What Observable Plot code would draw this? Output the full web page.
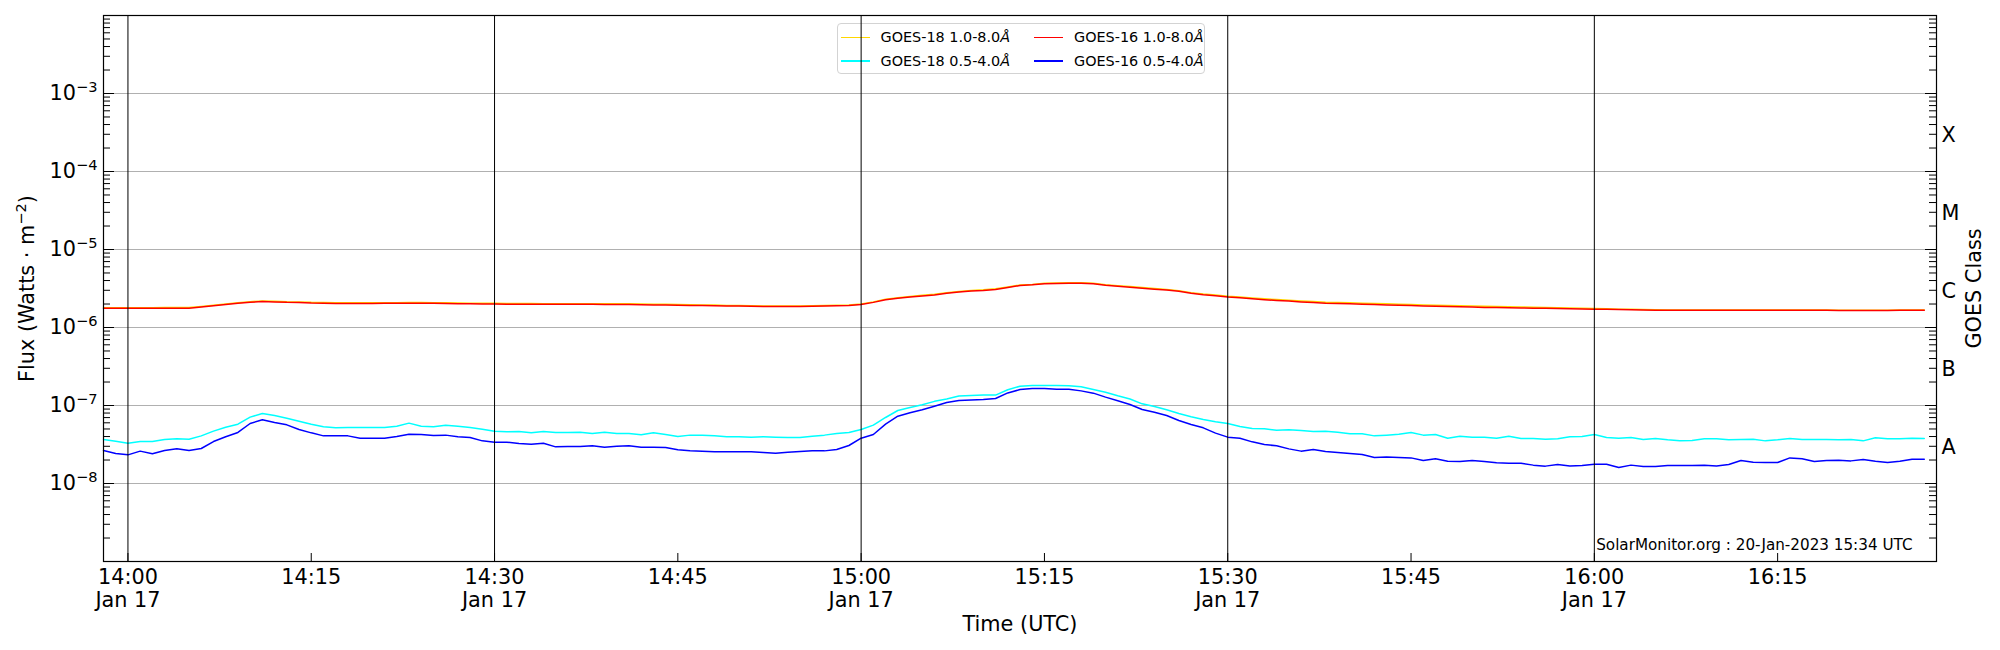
<!DOCTYPE html>
<html>
<head>
<meta charset="utf-8">
<script src="https://cdn.jsdelivr.net/npm/d3@7"></script>
<script src="https://cdn.jsdelivr.net/npm/@observablehq/plot@0.6"></script>
<style>
html, body { margin: 0; padding: 0; background: #fff; }
#wrap { position: relative; width: 2000px; height: 650px; font-family: "DejaVu Sans", sans-serif; }
#legend { position: absolute; left: 836.5px; top: 22.5px; width: 368px; height: 51px; border: 1px solid #d3d3d3; border-radius: 4px; background: #fff; z-index: 0; box-sizing: border-box; }
#chart { position: absolute; left: 0; top: 0; z-index: 1; }
.item { position: absolute; height: 20px; display: flex; align-items: center; font-size: 14.4px; color: #000; white-space: nowrap; }
.swatch { display: block; flex: 0 0 29px; width: 29px; height: 1.5px; margin-right: 11px; }
.item i { font-style: italic; }
</style>
</head>
<body>
<div id="wrap">
  <div id="legend"></div>
  <div id="chart"></div>
</div>
<script>
// ---------- data ----------
const seriesNames = ["GOES-18 1.0-8.0Å", "GOES-18 0.5-4.0Å", "GOES-16 1.0-8.0Å", "GOES-16 0.5-4.0Å"];
const seriesColors = ["#FFD700", "#00FFFF", "#FF0000", "#0000FF"];

// one-minute samples, 13:58 .. 16:27 UTC, 17 Jan 2023
const tStart = new Date(Date.UTC(2023, 0, 17, 13, 58));
const tEnd = new Date(Date.UTC(2023, 0, 17, 16, 28));
const times = d3.utcMinute.range(tStart, tEnd);

const goes18Long = [
  1.79e-6,1.79e-6,1.79e-6,1.79e-6,1.79e-6,1.80e-6,1.80e-6,1.80e-6,1.86e-6,1.93e-6,
  2.00e-6,2.08e-6,2.14e-6,2.19e-6,2.17e-6,2.14e-6,2.13e-6,2.10e-6,2.09e-6,2.07e-6,
  2.07e-6,2.07e-6,2.07e-6,2.08e-6,2.08e-6,2.09e-6,2.09e-6,2.08e-6,2.07e-6,2.06e-6,
  2.05e-6,2.04e-6,2.04e-6,2.03e-6,2.03e-6,2.03e-6,2.02e-6,2.02e-6,2.02e-6,2.02e-6,
  2.02e-6,2.01e-6,2.01e-6,2.01e-6,2.00e-6,1.99e-6,1.98e-6,1.97e-6,1.96e-6,1.95e-6,
  1.94e-6,1.92e-6,1.91e-6,1.90e-6,1.89e-6,1.89e-6,1.89e-6,1.89e-6,1.90e-6,1.92e-6,
  1.93e-6,1.95e-6,2.00e-6,2.13e-6,2.31e-6,2.41e-6,2.50e-6,2.59e-6,2.66e-6,2.79e-6,
  2.90e-6,2.99e-6,3.04e-6,3.13e-6,3.31e-6,3.50e-6,3.57e-6,3.68e-6,3.72e-6,3.76e-6,
  3.76e-6,3.69e-6,3.54e-6,3.44e-6,3.35e-6,3.25e-6,3.16e-6,3.08e-6,2.97e-6,2.80e-6,
  2.69e-6,2.61e-6,2.52e-6,2.46e-6,2.39e-6,2.33e-6,2.28e-6,2.24e-6,2.19e-6,2.15e-6,
  2.11e-6,2.09e-6,2.07e-6,2.05e-6,2.03e-6,2.01e-6,1.99e-6,1.97e-6,1.95e-6,1.93e-6,
  1.92e-6,1.90e-6,1.89e-6,1.87e-6,1.86e-6,1.84e-6,1.83e-6,1.82e-6,1.80e-6,1.79e-6,
  1.78e-6,1.76e-6,1.75e-6,1.74e-6,1.72e-6,1.71e-6,1.70e-6,1.69e-6,1.68e-6,1.68e-6,
  1.68e-6,1.68e-6,1.68e-6,1.68e-6,1.68e-6,1.68e-6,1.68e-6,1.68e-6,1.68e-6,1.68e-6,
  1.68e-6,1.68e-6,1.67e-6,1.67e-6,1.67e-6,1.67e-6,1.67e-6,1.68e-6,1.68e-6,1.68e-6
];
const goes18Short = [
  3.66e-8,3.49e-8,3.29e-8,3.45e-8,3.45e-8,3.66e-8,3.74e-8,3.70e-8,4.08e-8,4.69e-8,
  5.27e-8,5.76e-8,7.09e-8,7.90e-8,7.44e-8,6.88e-8,6.30e-8,5.76e-8,5.33e-8,5.17e-8,
  5.22e-8,5.22e-8,5.22e-8,5.22e-8,5.43e-8,5.94e-8,5.43e-8,5.33e-8,5.60e-8,5.43e-8,
  5.22e-8,4.97e-8,4.69e-8,4.60e-8,4.64e-8,4.46e-8,4.64e-8,4.51e-8,4.51e-8,4.55e-8,
  4.38e-8,4.55e-8,4.38e-8,4.38e-8,4.21e-8,4.46e-8,4.25e-8,4.00e-8,4.17e-8,4.17e-8,
  4.08e-8,3.97e-8,3.97e-8,3.93e-8,3.97e-8,3.93e-8,3.89e-8,3.89e-8,4.04e-8,4.17e-8,
  4.38e-8,4.51e-8,4.92e-8,5.60e-8,7.02e-8,8.63e-8,9.43e-8,1.02e-7,1.13e-7,1.21e-7,
  1.32e-7,1.34e-7,1.36e-7,1.36e-7,1.59e-7,1.77e-7,1.80e-7,1.80e-7,1.80e-7,1.79e-7,
  1.74e-7,1.60e-7,1.48e-7,1.33e-7,1.21e-7,1.05e-7,9.71e-8,8.80e-8,7.90e-8,7.16e-8,
  6.61e-8,6.17e-8,5.88e-8,5.38e-8,5.07e-8,5.02e-8,4.83e-8,4.88e-8,4.78e-8,4.64e-8,
  4.69e-8,4.55e-8,4.33e-8,4.33e-8,4.08e-8,4.17e-8,4.29e-8,4.51e-8,4.17e-8,4.25e-8,
  3.81e-8,4.04e-8,3.93e-8,3.93e-8,3.81e-8,4.04e-8,3.78e-8,3.78e-8,3.70e-8,3.74e-8,
  3.97e-8,4.00e-8,4.25e-8,3.89e-8,3.81e-8,3.89e-8,3.66e-8,3.78e-8,3.63e-8,3.52e-8,
  3.56e-8,3.74e-8,3.74e-8,3.63e-8,3.66e-8,3.70e-8,3.52e-8,3.63e-8,3.78e-8,3.66e-8,
  3.66e-8,3.66e-8,3.63e-8,3.66e-8,3.52e-8,3.85e-8,3.74e-8,3.74e-8,3.81e-8,3.78e-8
];
const goes16Long = [
  1.76e-6,1.76e-6,1.76e-6,1.76e-6,1.76e-6,1.77e-6,1.77e-6,1.77e-6,1.83e-6,1.90e-6,
  1.97e-6,2.05e-6,2.10e-6,2.15e-6,2.13e-6,2.10e-6,2.09e-6,2.06e-6,2.05e-6,2.03e-6,
  2.03e-6,2.03e-6,2.03e-6,2.04e-6,2.04e-6,2.05e-6,2.05e-6,2.04e-6,2.03e-6,2.02e-6,
  2.01e-6,2.00e-6,2.00e-6,1.99e-6,1.99e-6,1.99e-6,1.98e-6,1.98e-6,1.98e-6,1.98e-6,
  1.98e-6,1.97e-6,1.97e-6,1.97e-6,1.96e-6,1.95e-6,1.94e-6,1.93e-6,1.92e-6,1.91e-6,
  1.90e-6,1.89e-6,1.88e-6,1.87e-6,1.86e-6,1.86e-6,1.86e-6,1.86e-6,1.87e-6,1.89e-6,
  1.90e-6,1.92e-6,1.97e-6,2.10e-6,2.27e-6,2.37e-6,2.46e-6,2.54e-6,2.61e-6,2.74e-6,
  2.85e-6,2.94e-6,2.99e-6,3.08e-6,3.26e-6,3.45e-6,3.52e-6,3.63e-6,3.66e-6,3.70e-6,
  3.70e-6,3.63e-6,3.48e-6,3.38e-6,3.29e-6,3.19e-6,3.10e-6,3.02e-6,2.91e-6,2.74e-6,
  2.63e-6,2.55e-6,2.46e-6,2.40e-6,2.33e-6,2.27e-6,2.22e-6,2.18e-6,2.13e-6,2.09e-6,
  2.05e-6,2.03e-6,2.01e-6,1.99e-6,1.97e-6,1.95e-6,1.93e-6,1.91e-6,1.89e-6,1.87e-6,
  1.86e-6,1.84e-6,1.83e-6,1.81e-6,1.80e-6,1.79e-6,1.78e-6,1.77e-6,1.76e-6,1.75e-6,
  1.74e-6,1.73e-6,1.72e-6,1.71e-6,1.70e-6,1.69e-6,1.68e-6,1.67e-6,1.66e-6,1.66e-6,
  1.66e-6,1.66e-6,1.66e-6,1.66e-6,1.66e-6,1.66e-6,1.66e-6,1.66e-6,1.66e-6,1.66e-6,
  1.66e-6,1.66e-6,1.65e-6,1.65e-6,1.65e-6,1.65e-6,1.65e-6,1.66e-6,1.66e-6,1.66e-6
];
const goes16Short = [
  2.65e-8,2.42e-8,2.33e-8,2.60e-8,2.40e-8,2.65e-8,2.78e-8,2.65e-8,2.81e-8,3.45e-8,
  3.97e-8,4.51e-8,5.88e-8,6.55e-8,6.05e-8,5.65e-8,4.92e-8,4.46e-8,4.08e-8,4.08e-8,
  4.08e-8,3.81e-8,3.81e-8,3.81e-8,4.00e-8,4.29e-8,4.25e-8,4.12e-8,4.17e-8,3.97e-8,
  3.89e-8,3.52e-8,3.39e-8,3.39e-8,3.26e-8,3.19e-8,3.29e-8,2.95e-8,2.98e-8,2.98e-8,
  3.04e-8,2.92e-8,3.01e-8,3.04e-8,2.92e-8,2.92e-8,2.89e-8,2.70e-8,2.62e-8,2.60e-8,
  2.55e-8,2.55e-8,2.55e-8,2.55e-8,2.50e-8,2.45e-8,2.52e-8,2.57e-8,2.62e-8,2.62e-8,
  2.73e-8,3.07e-8,3.81e-8,4.25e-8,5.76e-8,7.30e-8,8.05e-8,8.80e-8,9.80e-8,1.09e-7,
  1.16e-7,1.18e-7,1.19e-7,1.23e-7,1.45e-7,1.60e-7,1.65e-7,1.65e-7,1.62e-7,1.62e-7,
  1.54e-7,1.44e-7,1.28e-7,1.15e-7,1.03e-7,8.89e-8,8.21e-8,7.44e-8,6.42e-8,5.71e-8,
  5.17e-8,4.42e-8,3.93e-8,3.81e-8,3.42e-8,3.16e-8,3.04e-8,2.78e-8,2.60e-8,2.73e-8,
  2.57e-8,2.50e-8,2.42e-8,2.35e-8,2.15e-8,2.18e-8,2.15e-8,2.13e-8,1.97e-8,2.07e-8,
  1.93e-8,1.91e-8,1.97e-8,1.92e-8,1.84e-8,1.82e-8,1.82e-8,1.72e-8,1.67e-8,1.75e-8,
  1.68e-8,1.70e-8,1.77e-8,1.77e-8,1.60e-8,1.72e-8,1.65e-8,1.65e-8,1.70e-8,1.70e-8,
  1.70e-8,1.72e-8,1.68e-8,1.75e-8,1.97e-8,1.87e-8,1.86e-8,1.86e-8,2.13e-8,2.07e-8,
  1.91e-8,1.97e-8,1.99e-8,1.95e-8,2.03e-8,1.93e-8,1.86e-8,1.93e-8,2.05e-8,2.05e-8
];
const seriesValues = [goes18Long, goes18Short, goes16Long, goes16Short];

// axes / ticks
const xTickTimes = d3.utcMinute.every(15).range(new Date(Date.UTC(2023,0,17,14,0)), new Date(Date.UTC(2023,0,17,16,16)));
const xDayLines = d3.utcMinute.every(30).range(new Date(Date.UTC(2023,0,17,14,0)), new Date(Date.UTC(2023,0,17,16,1)));
const yDomain = [1e-9, 1e-2];
const yGridValues = [1e-8, 1e-7, 1e-6, 1e-5, 1e-4, 1e-3];
const yLabelValues = [1e-8, 1e-7, 1e-6, 1e-5, 1e-4, 1e-3];
const classLabels = ["A", "B", "C", "M", "X"];
const classValues = [3.16e-8, 3.16e-7, 3.16e-6, 3.16e-5, 3.16e-4];
const yTitle = "Flux (Watts · m^-2)";
const yRightTitle = "GOES Class";
const xTitle = "Time (UTC)";
const stamp = "SolarMonitor.org : 20-Jan-2023 15:34 UTC";

// ---------- layout ----------
const W = 2000, H = 650;
const ML = 103, MR = 64, MT = 15, MB = 89;
const PW = W - ML - MR, PH = H - MT - MB;
const FS = 20.8;

// ---------- helpers ----------
const powFmt = d => "10^" + Math.round(Math.log10(d));
const hm = d3.utcFormat("%H:%M");
const dayFmt = d3.utcFormat("%b %d");
const xFmt = d => (d.getUTCMinutes() % 30 === 0) ? hm(d) + "\n" + dayFmt(d) : hm(d);

const allLogTicks = d3.scaleLog().domain(yDomain).ticks();
const isDecade = v => Math.abs(Math.log10(v) - Math.round(Math.log10(v))) < 1e-9;
const yMajorTicks = allLogTicks.filter(isDecade);
const yMinorTicks = allLogTicks.filter(v => !isDecade(v));

const lineMarks = seriesValues.map((vals, s) =>
  Plot.line(times, {x: d => d, y: (d, i) => vals[i], stroke: seriesColors[s], strokeWidth: 1.5})
);

const chart = Plot.plot({
  width: W,
  height: H,
  marginLeft: ML,
  marginRight: MR,
  marginTop: MT,
  marginBottom: MB,
  style: {background: "transparent", fontFamily: "DejaVu Sans, sans-serif", color: "black", overflow: "visible"},
  x: {type: "utc", domain: [tStart, tEnd]},
  y: {type: "log", domain: yDomain},
  marks: [
    Plot.ruleY(yGridValues, {stroke: "#b0b0b0", strokeWidth: 1}),
    ...lineMarks,
    Plot.ruleX(xDayLines, {stroke: "black", strokeWidth: 1}),
    // inward ticks, left and right
    Plot.tickY(yMajorTicks, {y: d => d, insetRight: PW - 11, stroke: "black", strokeWidth: 1}),
    Plot.tickY(yMinorTicks, {y: d => d, insetRight: PW - 7, stroke: "black", strokeWidth: 1}),
    Plot.tickY(yMajorTicks, {y: d => d, insetLeft: PW - 11, stroke: "black", strokeWidth: 1}),
    Plot.tickY(yMinorTicks, {y: d => d, insetLeft: PW - 7, stroke: "black", strokeWidth: 1}),
    // inward ticks, bottom
    Plot.tickX(xTickTimes, {x: d => d, insetTop: PH - 8, stroke: "black", strokeWidth: 1}),
    // left axis labels
    Plot.axisY({ticks: yLabelValues, anchor: "left", tickSize: 0, tickPadding: 6, tickFormat: powFmt, fontSize: FS, label: null}),
    // bottom axis labels
    Plot.axisX({ticks: xTickTimes, anchor: "bottom", tickSize: 0, tickPadding: 7, tickFormat: xFmt, fontSize: FS, lineHeight: 1.07, label: null}),
    Plot.frame({stroke: "black", strokeWidth: 1.2}),
    // GOES classes on the right
    Plot.text(classLabels, {y: (d, i) => classValues[i], text: d => d, frameAnchor: "right", dx: 5, dy: 3, textAnchor: "start", fontSize: FS}),
    // titles
    Plot.text([yTitle], {text: d => d, frameAnchor: "left", dx: -76, rotate: -90, textAnchor: "middle", fontSize: FS}),
    Plot.text([yRightTitle], {text: d => d, frameAnchor: "right", dx: 38, rotate: -90, textAnchor: "middle", fontSize: FS}),
    Plot.text([xTitle], {text: d => d, frameAnchor: "bottom", dy: 69, textAnchor: "middle", fontSize: FS}),
    Plot.text([stamp], {text: d => d, frameAnchor: "bottom-right", dx: -24, dy: -12, textAnchor: "end", lineAnchor: "bottom", fontSize: 15.2})
  ]
});

// render "^n" as a real superscript (matplotlib mathtext look)
d3.select(chart).selectAll("text").each(function() {
  const t = this.textContent;
  const m = /^(.*)\^(-?\d+)(.*)$/.exec(t);
  if (!m) return;
  const sel = d3.select(this);
  sel.text(null);
  sel.append("tspan").text(m[1]);
  sel.append("tspan").attr("dy", "-8.5px").attr("font-size", "14.6px").text(m[2].replace("-", "−"));
  if (m[3]) sel.append("tspan").attr("dy", "8.5px").text(m[3]);
});

document.getElementById("chart").appendChild(chart);

// ---------- legend (column-major, 2 columns) ----------
const legend = document.getElementById("legend");
const legendPos = [[3, 3.8], [3, 27.5], [196.5, 3.8], [196.5, 27.5]];
seriesNames.forEach((name, i) => {
  const item = document.createElement("div");
  item.className = "item";
  item.style.left = legendPos[i][0] + "px";
  item.style.top = legendPos[i][1] + "px";
  const sw = document.createElement("span");
  sw.className = "swatch";
  sw.style.background = seriesColors[i];
  item.appendChild(sw);
  const label = document.createElement("span");
  label.innerHTML = name.replace("Å", "<i>Å</i>");
  item.appendChild(label);
  legend.appendChild(item);
});
</script>
</body>
</html>
